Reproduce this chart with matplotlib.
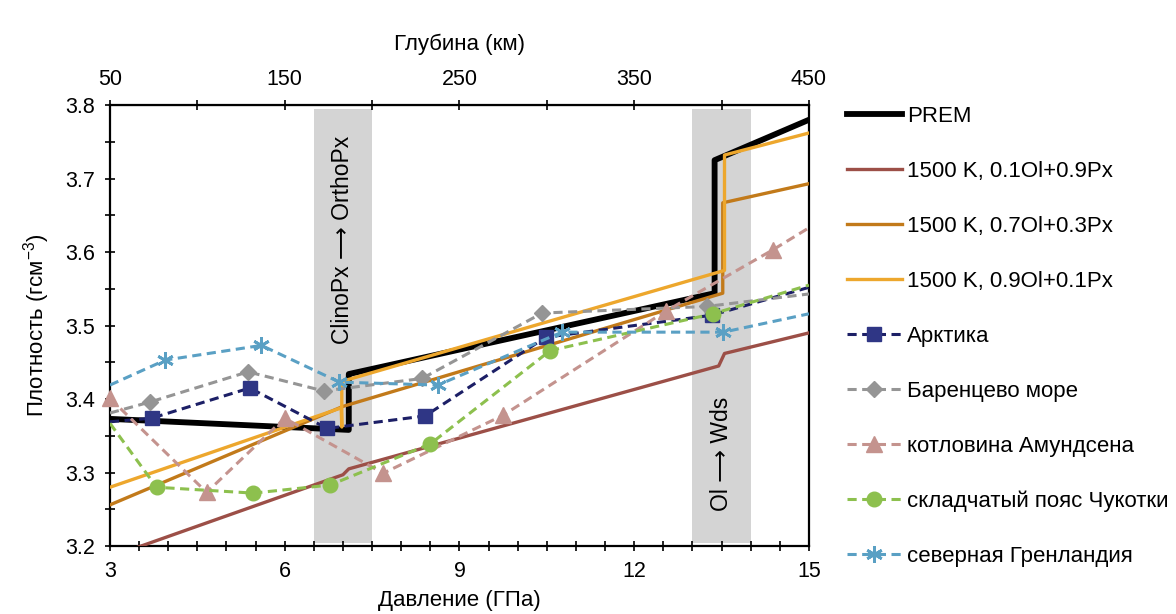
import matplotlib
matplotlib.use("Agg")
import matplotlib.pyplot as plt

plt.rcParams['font.family'] = ['Liberation Sans', 'DejaVu Sans']
plt.rcParams['mathtext.fontset'] = 'custom'
plt.rcParams['mathtext.rm'] = 'Liberation Sans'
plt.rcParams['mathtext.it'] = 'Liberation Sans'

# --- данные (давление ГПа, плотность г/см3) ---
prem_p = [3.0, 7.1, 7.1, 13.38, 13.38, 15.0]
prem_rho = [3.373, 3.358, 3.434, 3.544, 3.725, 3.780]

px09_p = [3.0, 7.0, 7.1, 13.45, 13.55, 15.0]
px09_rho = [3.185, 3.297, 3.305, 3.445, 3.462, 3.490]

ol07_p = [3.0, 7.0, 13.52, 13.52, 15.0]
ol07_rho = [3.256, 3.390, 3.544, 3.667, 3.693]

ol09_p = [3.0, 6.97, 6.98, 6.98, 13.55, 13.55, 15.0]
ol09_rho = [3.280, 3.388, 3.362, 3.424, 3.575, 3.732, 3.762]

arct_p = [3.0, 3.72, 5.40, 6.73, 8.41, 10.48, 13.33, 15.0]
arct_rho = [3.369, 3.374, 3.415, 3.360, 3.377, 3.484, 3.514, 3.552]

bar_p = [3.0, 3.69, 5.37, 6.67, 8.36, 10.42, 13.25, 15.0]
bar_rho = [3.381, 3.396, 3.437, 3.411, 3.428, 3.517, 3.526, 3.543]

amu_p = [3.0, 4.66, 6.0, 7.69, 9.75, 12.55, 14.38, 15.0]
amu_rho = [3.401, 3.273, 3.374, 3.299, 3.378, 3.520, 3.603, 3.633]

chuk_p = [3.0, 3.80, 5.46, 6.78, 8.50, 10.56, 13.35, 15.0]
chuk_rho = [3.367, 3.280, 3.272, 3.283, 3.339, 3.466, 3.516, 3.555]

grl_p = [3.0, 3.95, 5.60, 6.94, 8.63, 10.76, 13.53, 15.0]
grl_rho = [3.419, 3.453, 3.473, 3.423, 3.419, 3.491, 3.491, 3.516]

bands = [(6.5, 7.5), (13.0, 14.0)]


def p2d(p):
    return 50 + (p - 3) * 400 / 12


def d2p(d):
    return 3 + (d - 50) * 12 / 400


fig = plt.figure(figsize=(11.76, 6.14), dpi=100)
ax = fig.add_axes([0.0935, 0.1107, 0.5944, 0.7182])

# серые полосы фазовых переходов
for lo, hi in bands:
    ax.axvspan(lo, hi, ymin=0.008, ymax=0.99, color='#d4d4d4', lw=0, zorder=0)
ax.text(7.0, 3.617, 'ClinoPx ⟶ OrthoPx', rotation=90, ha='center', va='center',
        fontsize=16.5, zorder=1)
ax.text(13.5, 3.325, 'Ol ⟶ Wds', rotation=90, ha='center', va='center',
        fontsize=16.5, zorder=1)

ax.plot(prem_p, prem_rho, color='black', lw=4.2, label='PREM', zorder=3)
ax.plot(px09_p, px09_rho, color='#9c4f47', lw=2.4, label='1500 K, 0.1Ol+0.9Px', zorder=3)
ax.plot(ol07_p, ol07_rho, color='#c27a1a', lw=2.4, label='1500 K, 0.7Ol+0.3Px', zorder=3)
ax.plot(ol09_p, ol09_rho, color='#eda72d', lw=2.4, label='1500 K, 0.9Ol+0.1Px', zorder=3)

dash = (3, 1.8)
ax.plot(arct_p, arct_rho, color='#1c1f66', lw=2.2, dashes=dash, marker='s', ms=10,
        mfc='#2f3685', mec='#2f3685', markevery=slice(1, 7), label='Арктика', zorder=4)
ax.plot(bar_p, bar_rho, color='#959595', lw=2.2, dashes=dash, marker='D', ms=8.5,
        mfc='#959595', mec='#959595', markevery=slice(1, 7), label='Баренцево море', zorder=4)
ax.plot(amu_p, amu_rho, color='#c4938e', lw=2.2, dashes=dash, marker='^', ms=11,
        mfc='#c4938e', mec='#c4938e', markevery=slice(0, 7), label='котловина Амундсена',
        zorder=4, clip_on=False)
ax.plot(chuk_p, chuk_rho, color='#8dc04e', lw=2.2, dashes=dash, marker='o', ms=10.5,
        mfc='#8dc04e', mec='#8dc04e', markevery=slice(1, 7), label='складчатый пояс Чукотки', zorder=4)
ax.plot(grl_p, grl_rho, color='#5aa0c4', lw=2.2, dashes=dash, marker=(6, 2, 0), ms=12,
        mew=2, mfc='#5aa0c4', mec='#5aa0c4', markevery=slice(1, 7), label='северная Гренландия', zorder=4)

ax.set_xlim(3, 15)
ax.set_ylim(3.2, 3.8)
ax.set_xticks([3, 6, 9, 12, 15])
ax.set_xticks([x / 2 for x in range(6, 31)], minor=True)
ax.set_yticks([3.2, 3.3, 3.4, 3.5, 3.6, 3.7, 3.8])
ax.set_yticks([3.25, 3.35, 3.45, 3.55, 3.65, 3.75], minor=True)
ax.set_yticklabels(['3.2', '3.3', '3.4', '3.5', '3.6', '3.7', '3.8'])
ax.tick_params(which='both', direction='inout', length=7, width=1.2, labelsize=15.5, pad=7,
               right=False, top=False)
for s in ax.spines.values():
    s.set_linewidth(1.6)

ax.set_xlabel('Давление (ГПа)', fontsize=16, labelpad=6)
ax.set_ylabel('Плотность (гсм$^{-3}$)', fontsize=16, labelpad=10)

secax = ax.secondary_xaxis('top', functions=(p2d, d2p))
secax.set_xticks([50, 150, 250, 350, 450])
secax.set_xticks([100, 200, 300, 400], minor=True)
secax.tick_params(which='both', direction='inout', length=7, width=1.2, labelsize=15.5, pad=7)
secax.set_xlabel('Глубина (км)', fontsize=16, labelpad=14)

ax.legend(loc='upper left', bbox_to_anchor=(0.720, 0.828), bbox_transform=fig.transFigure,
          frameon=False, fontsize=16, handlelength=2.5, handletextpad=0.22,
          labelspacing=1.53, borderpad=0, borderaxespad=0, numpoints=1)

fig.savefig('out.png', dpi=100, facecolor='white')
